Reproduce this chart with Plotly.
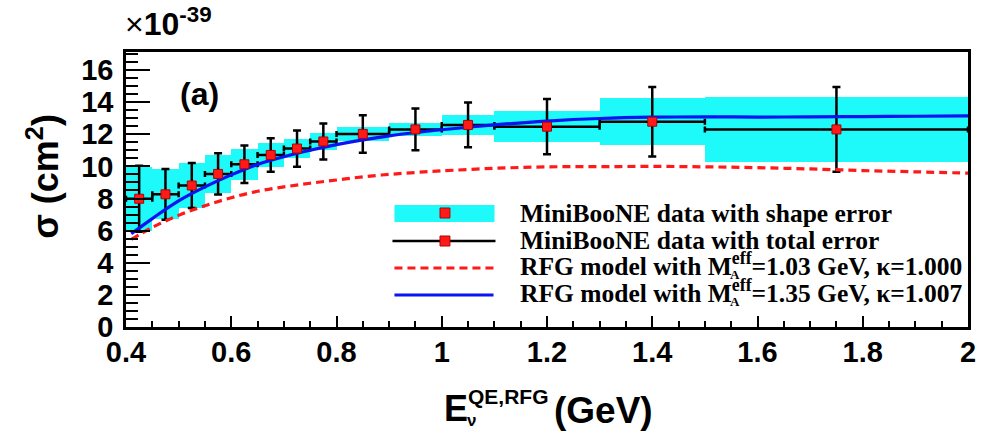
import plotly.graph_objects as go

# ---------------- data (x10^-39 cm^2) ----------------
bin_lo = [0.40, 0.45, 0.50, 0.55, 0.60, 0.65, 0.70, 0.75, 0.80, 0.90, 1.00, 1.10, 1.30, 1.50]
bin_hi = [0.45, 0.50, 0.55, 0.60, 0.65, 0.70, 0.75, 0.80, 0.90, 1.00, 1.10, 1.30, 1.50, 2.00]
sigma = [7.985, 8.261, 8.809, 9.530, 10.13, 10.71, 11.11, 11.55, 12.02, 12.30, 12.58, 12.47, 12.78, 12.30]
shape_err = [2.00, 1.55, 1.40, 1.20, 0.95, 0.75, 0.60, 0.50, 0.42, 0.40, 0.60, 0.95, 1.45, 2.02]
total_err = [2.05, 1.58, 1.40, 1.28, 1.17, 1.04, 1.13, 1.12, 1.17, 1.30, 1.39, 1.72, 2.16, 2.64]

e_model = [0.41, 0.45, 0.50, 0.55, 0.60, 0.65, 0.70, 0.75, 0.80, 0.85, 0.90, 0.95, 1.00,
           1.10, 1.20, 1.30, 1.40, 1.50, 1.60, 1.70, 1.80, 1.90, 2.00]
rfg_103 = [5.45, 6.20, 6.95, 7.55, 8.05, 8.45, 8.72, 8.95, 9.15, 9.35, 9.50, 9.62, 9.72,
           9.88, 9.97, 9.98, 10.00, 9.97, 9.92, 9.84, 9.74, 9.66, 9.58]
rfg_135 = [5.80, 6.75, 7.85, 8.72, 9.47, 10.12, 10.60, 11.00, 11.35, 11.65, 11.90, 12.10, 12.28,
           12.58, 12.82, 12.98, 13.06, 13.08, 13.07, 13.08, 13.10, 13.12, 13.14]

x_ticks = [0.4, 0.6, 0.8, 1.0, 1.2, 1.4, 1.6, 1.8, 2.0]
x_ticktext = ["0.4", "0.6", "0.8", "1", "1.2", "1.4", "1.6", "1.8", "2"]
y_ticks = [0, 2, 4, 6, 8, 10, 12, 14, 16]
y_ticktext = ["0", "2", "4", "6", "8", "10", "12", "14", "16"]

legend_labels = [
    "MiniBooNE data with shape error",
    "MiniBooNE data with total error",
    "RFG model with M<sup>eff</sup>=1.03 GeV, \u03ba=1.000",
    "RFG model with M<sup>eff</sup>=1.35 GeV, \u03ba=1.007",
]

# ---------------- derived ----------------
centers = [(a + b) / 2 for a, b in zip(bin_lo, bin_hi)]
widths = [b - a for a, b in zip(bin_lo, bin_hi)]
half_w = [w / 2 for w in widths]
band_base = [s - e for s, e in zip(sigma, shape_err)]
band_h = [2 * e for e in shape_err]

CYAN = "#1ef9f9"
RED = "#ff1a1a"
BLUE = "#0a14f0"

fig = go.Figure()

fig.add_trace(go.Bar(x=centers, y=band_h, base=band_base, width=widths,
                     marker=dict(color=CYAN, line=dict(width=0)), showlegend=False))

fig.add_trace(go.Scatter(x=centers, y=sigma, mode="markers",
                         marker=dict(size=1, color="rgba(0,0,0,0)"),
                         error_x=dict(type="data", array=half_w, color="black", thickness=2.5, width=3),
                         error_y=dict(type="data", array=total_err, color="black", thickness=2.5, width=4),
                         showlegend=False))

fig.add_trace(go.Scatter(x=e_model, y=rfg_103, mode="lines", line_shape="spline",
                         line=dict(color=RED, width=3.2, dash="8px,5px"), showlegend=False))
fig.add_trace(go.Scatter(x=e_model, y=rfg_135, mode="lines", line_shape="spline",
                         line=dict(color=BLUE, width=3.2), showlegend=False))

fig.add_trace(go.Scatter(x=centers, y=sigma, mode="markers",
                         marker=dict(symbol="square", size=9, color=RED,
                                     line=dict(color="#b00000", width=1)),
                         showlegend=False))

# ---------------- layout ----------------
L, R, T, B = 126, 8, 52, 108
W, H = 984, 435
PW, PH = W - L - R, H - T - B


def px(xp):
    return (xp - L) / PW


def py(yp):
    return (H - B - yp) / PH


def bold(lst):
    return ["<b>" + t + "</b>" for t in lst]


TICKFONT = dict(family="Liberation Sans", size=29, color="black")

fig.update_layout(
    width=W, height=H,
    margin=dict(l=L, r=R, t=T, b=B),
    paper_bgcolor="white", plot_bgcolor="white",
    font=dict(color="black", family="Liberation Sans"),
    bargap=0, barmode="overlay",
    xaxis=dict(range=[0.4, 2.0], tickvals=x_ticks, ticktext=bold(x_ticktext),
               ticks="inside", ticklen=11, tickwidth=2, tickcolor="black",
               minor=dict(dtick=0.05, tick0=0.4, ticks="inside", ticklen=6, tickwidth=2, tickcolor="black"),
               showline=True, linecolor="black", linewidth=2.5, mirror=True,
               showgrid=False, zeroline=False, tickfont=TICKFONT, ticklabelstandoff=-3),
    yaxis=dict(range=[0, 17.12], tickvals=y_ticks, ticktext=bold(y_ticktext),
               ticks="inside", ticklen=24, tickwidth=2, tickcolor="black",
               minor=dict(dtick=0.5, tick0=0, ticks="inside", ticklen=12, tickwidth=2, tickcolor="black"),
               showline=True, linecolor="black", linewidth=2.5, mirror=True,
               showgrid=False, zeroline=False, tickfont=TICKFONT, ticklabelstandoff=4),
)

ann = []
# axis titles
ann.append(dict(text="<b>E</b>", x=px(445), y=py(408), xanchor="left", yanchor="middle",
                font=dict(family="Liberation Sans", size=36)))
ann.append(dict(text="<b>QE,RFG</b>", x=px(469), y=py(397), xanchor="left", yanchor="middle",
                font=dict(family="Liberation Sans", size=21)))
ann.append(dict(text="<b>\u03bd</b>", x=px(468), y=py(420), xanchor="left", yanchor="middle",
                font=dict(family="Liberation Sans", size=17)))
ann.append(dict(text="<b>(GeV)</b>", x=px(556), y=py(410), xanchor="left", yanchor="middle",
                font=dict(family="Liberation Sans", size=37)))
ann.append(dict(text="<b>\u03c3 (cm<sup>2</sup>)</b>", x=px(42), y=py(176), xanchor="center", yanchor="middle",
                textangle=-90, font=dict(family="Liberation Sans", size=36)))
ann.append(dict(text="\u00d7<b>10</b><sup><b>-39</b></sup>", x=px(123), y=py(22), xanchor="left", yanchor="middle",
                font=dict(family="Liberation Sans", size=32)))
ann.append(dict(text="<b>(a)</b>", x=px(200), y=py(94), xanchor="center", yanchor="middle",
                font=dict(family="Liberation Sans", size=32)))

# legend (drawn manually)
rows = [213, 240, 264, 291]
shapes = []
for yrow, label in zip(rows, legend_labels):
    ann.append(dict(text="<b>" + label + "</b>", x=px(522), y=py(yrow), xanchor="left", yanchor="middle",
                    font=dict(family="Liberation Serif", size=25.5)))
for yrow in rows[2:]:
    ann.append(dict(text="<b>A</b>", x=px(741), y=py(yrow + 10), xanchor="center", yanchor="middle",
                    font=dict(family="Liberation Serif", size=13)))

shapes.append(dict(type="rect", x0=px(397), x1=px(498), y0=py(222), y1=py(205),
                   fillcolor=CYAN, line=dict(width=0)))
shapes.append(dict(type="line", x0=px(395), x1=px(499), y0=py(241), y1=py(241),
                   line=dict(color="black", width=2.5)))
for yc in (213, 241):
    shapes.append(dict(type="rect", x0=px(443), x1=px(453), y0=py(yc + 5), y1=py(yc - 5),
                       fillcolor=RED, line=dict(color="#b00000", width=1)))
shapes.append(dict(type="line", x0=px(397), x1=px(497), y0=py(268), y1=py(268),
                   line=dict(color=RED, width=3.2, dash="8px,5px")))
shapes.append(dict(type="line", x0=px(397), x1=px(497), y0=py(295), y1=py(295),
                   line=dict(color=BLUE, width=3.2)))

for a in ann:
    a.update(xref="paper", yref="paper", showarrow=False)
    a["font"]["color"] = "black"
fig.update_layout(annotations=ann, shapes=[dict(s, xref="paper", yref="paper") for s in shapes])

fig.write_html("out.html")
